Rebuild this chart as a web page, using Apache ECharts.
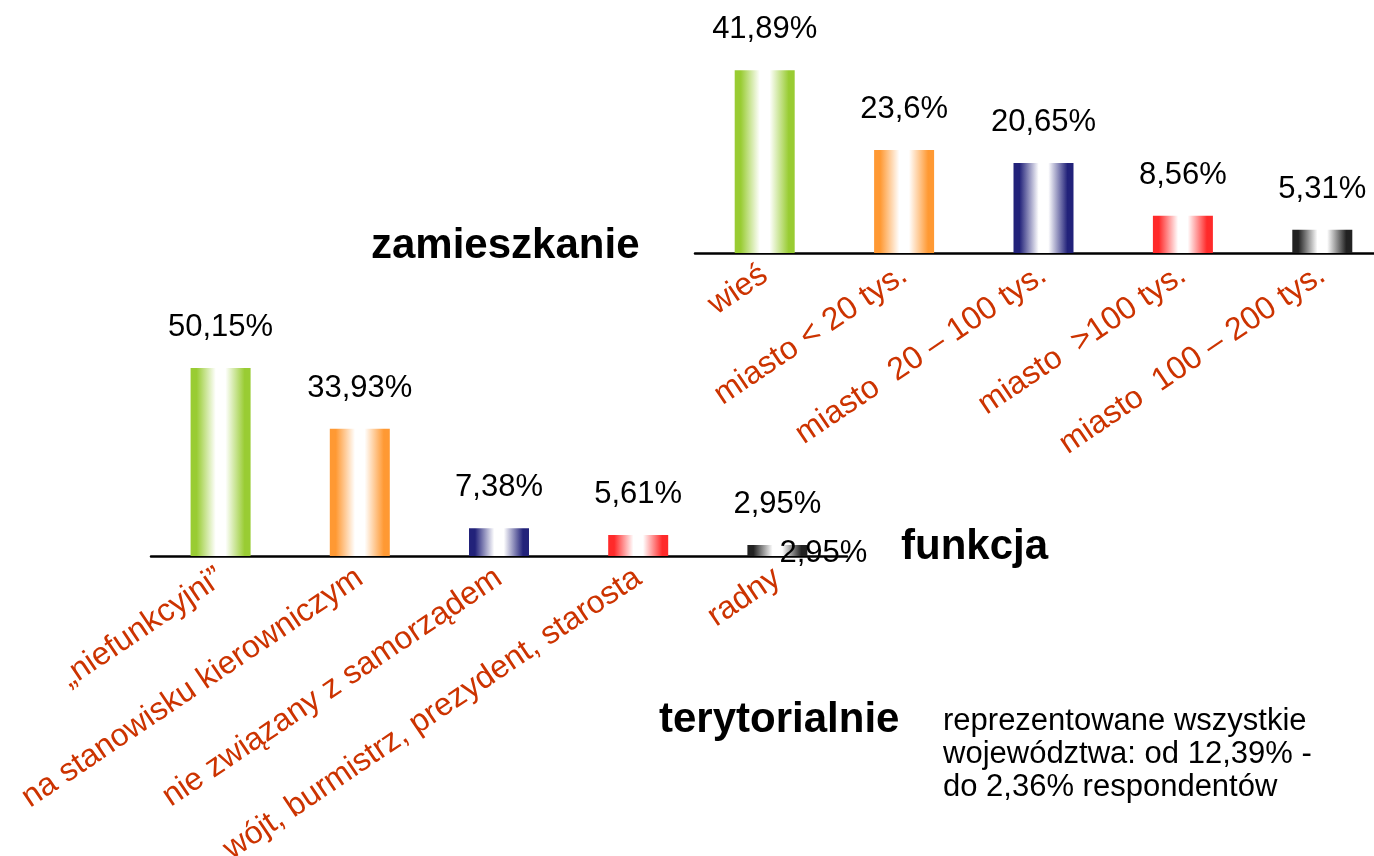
<!DOCTYPE html>
<html>
<head>
<meta charset="utf-8">
<script src="https://cdn.jsdelivr.net/npm/echarts@6/dist/echarts.min.js"></script>
<style>
html,body{margin:0;padding:0;background:#fff;}
#chart{width:1374px;height:856px;}
</style>
</head>
<body>
<div id="chart"></div>
<script>
// ---- data ----
const zamieszkanieCats = ['wieś', 'miasto < 20 tys.', 'miasto  20 – 100 tys.', 'miasto  >100 tys.', 'miasto  100 – 200 tys.'];
const zamieszkanieVals = [41.89, 23.6, 20.65, 8.56, 5.31];
const funkcjaCats = ['„niefunkcyjni”', 'na stanowisku kierowniczym', 'nie związany z samorządem', 'wójt, burmistrz, prezydent, starosta', 'radny'];
const funkcjaVals = [50.15, 33.93, 7.38, 5.61, 2.95];
const barColors = ['#99cc33', '#ff9933', '#22227a', '#ff2a2a', '#222222'];
const titles = ['zamieszkanie', 'funkcja', 'terytorialnie'];
const noteLines = ['reprezentowane wszystkie', 'województwa: od 12,39% -', 'do 2,36% respondentów'];

const FONT = "'Liberation Sans', Arial, sans-serif";
const fmt = v => String(v).replace('.', ',') + '%';

function grad(c) {
  return new echarts.graphic.LinearGradient(0, 0, 1, 0, [
    {offset: 0, color: c},
    {offset: 0.1, color: c},
    {offset: 0.42, color: '#ffffff'},
    {offset: 0.58, color: '#ffffff'},
    {offset: 0.9, color: c},
    {offset: 1, color: c}
  ]);
}
function items(vals) {
  return vals.map((v, i) => ({value: v, itemStyle: {color: grad(barColors[i])}}));
}
const catAxisCommon = {
  type: 'category',
  axisLine: {show: true, lineStyle: {color: '#000', width: 2.5}},
  axisTick: {show: false},
  axisLabel: {
    interval: 0, rotate: 34, margin: 19, color: '#cc3300',
    fontFamily: FONT, fontSize: 32, hideOverlap: false
  },
  splitLine: {show: false}
};
const valLabel = {
  show: true, position: 'top', distance: 25,
  fontFamily: FONT, fontSize: 31, color: '#000', lineHeight: 31,
  formatter: p => fmt(p.value)
};
const titleStyle = {fontFamily: FONT, fontSize: 42, fontWeight: 'bold', color: '#000'};

const chart = echarts.init(document.getElementById('chart'));
chart.setOption({
  animation: false,
  backgroundColor: '#fff',
  grid: [
    {left: 695, width: 697, top: 35, height: 218, outerBoundsMode: 'none', containLabel: false},
    {left: 151, width: 696, top: 331, height: 225, outerBoundsMode: 'none', containLabel: false}
  ],
  xAxis: [
    Object.assign({gridIndex: 0, data: zamieszkanieCats}, catAxisCommon),
    Object.assign({gridIndex: 1, data: funkcjaCats}, catAxisCommon)
  ],
  yAxis: [
    {type: 'value', gridIndex: 0, min: 0, max: 50, show: false, splitLine: {show: false}},
    {type: 'value', gridIndex: 1, min: 0, max: 60, show: false, splitLine: {show: false}}
  ],
  title: [
    {text: titles[0], left: 366, top: 220, textStyle: titleStyle},
    {text: titles[1], left: 896, top: 521, textStyle: titleStyle},
    {text: titles[2], left: 654, top: 694, textStyle: titleStyle},
    {text: noteLines.join('\n'), left: 938, top: 700, textStyle: {fontFamily: FONT, fontSize: 31, fontWeight: 'normal', color: '#000', lineHeight: 33}}
  ],
  series: [
    {
      type: 'bar', xAxisIndex: 0, yAxisIndex: 0, barWidth: 60,
      data: items(zamieszkanieVals), label: valLabel
    },
    {
      type: 'bar', xAxisIndex: 1, yAxisIndex: 1, barWidth: 60,
      data: items(funkcjaVals), label: valLabel,
      markPoint: {
        symbol: 'circle', symbolSize: 0,
        data: [{coord: [funkcjaCats[4], 0], value: funkcjaVals[4]}],
        label: {
          show: true, position: 'inside', offset: [46, -3],
          fontFamily: FONT, fontSize: 31, color: '#000',
          formatter: p => fmt(p.value)
        }
      }
    }
  ]
});
</script>
</body>
</html>
